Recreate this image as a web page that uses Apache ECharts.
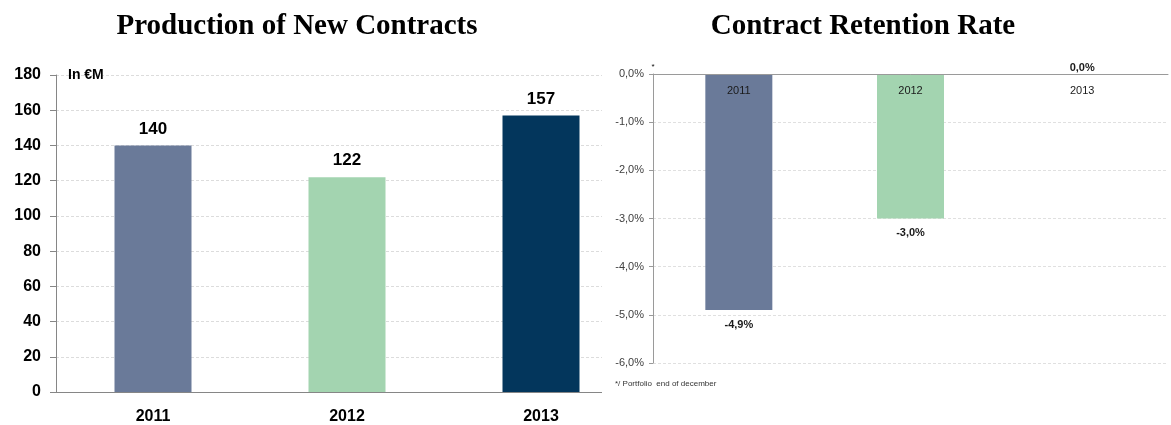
<!DOCTYPE html>
<html>
<head>
<meta charset="utf-8">
<script src="https://cdn.jsdelivr.net/npm/echarts@6/dist/echarts.min.js"></script>
<style>
  html, body { margin: 0; padding: 0; background: #fff; }
  #wrap { position: relative; width: 1171px; height: 425px; overflow: hidden; }
  #prod { position: absolute; left: 0; top: 0; width: 1171px; height: 425px; }
  #ret { position: absolute; left: 602px; top: 0; width: 569px; height: 394px; background: #fff; }
</style>
</head>
<body>
<div id="wrap">
  <div id="prod"></div>
  <div id="ret"></div>
</div>
<script>
// Years shown on both charts
const years = ['2011', '2012', '2013'];
// New contract production, in € millions
const production = [140, 122, 157];
// Contract retention rate, in percent
const retention = [-4.9, -3.0, 0.0];
// Value axis ticks
const prodTicks = { min: 0, max: 180, step: 20 };
const retTicks = { min: -6, max: 0, step: 1 };

const barColors = ['#6a7a99', '#a3d4b0', '#03365c'];
const sans = '"Liberation Sans", Arial, sans-serif';
const serif = '"Liberation Serif", "Times New Roman", serif';
const pct = v => v.toFixed(1).replace('.', ',') + '%';

// Left chart: production of new contracts
const prodChart = echarts.init(document.getElementById('prod'), null, { renderer: 'canvas' });
prodChart.setOption({
  animation: false,
  title: {
    text: 'Production of New Contracts',
    left: 292, top: 7, textAlign: 'center',
    textStyle: { fontFamily: serif, fontWeight: 'bold', fontSize: 29, color: '#000' }
  },
  grid: { left: 56, top: 75, right: 533, bottom: 32 },
  xAxis: {
    type: 'category',
    data: years,
    axisLine: { lineStyle: { color: '#868686', width: 1 } },
    axisTick: { length: 7, lineStyle: { color: '#868686' } },
    axisLabel: { margin: 17, color: '#000', fontFamily: sans, fontWeight: 'bold', fontSize: 16 }
  },
  yAxis: {
    type: 'value',
    min: prodTicks.min, max: prodTicks.max, interval: prodTicks.step,
    name: 'In €M',
    nameLocation: 'end',
    nameGap: 0,
    nameTextStyle: { align: 'left', verticalAlign: 'middle', padding: [0, 0, 0, 12], color: '#000', fontFamily: sans, fontWeight: 'bold', fontSize: 14 },
    axisLine: { show: true, lineStyle: { color: '#868686', width: 1 } },
    axisTick: { show: true, length: 6, lineStyle: { color: '#868686' } },
    axisLabel: { margin: 15, color: '#000', fontFamily: sans, fontWeight: 'bold', fontSize: 16 },
    splitLine: { show: true, lineStyle: { color: '#dcdcdc', type: [3, 2], width: 1 } }
  },
  series: [{
    type: 'bar',
    barWidth: 77,
    data: production.map((v, i) => ({ value: v, itemStyle: { color: barColors[i] } })),
    label: {
      show: true, position: 'top', distance: 8,
      color: '#000', fontFamily: sans, fontWeight: 'bold', fontSize: 17
    }
  }]
});

// Right chart: contract retention rate
const retChart = echarts.init(document.getElementById('ret'), null, { renderer: 'canvas' });
retChart.setOption({
  animation: false,
  title: [{
    text: 'Contract Retention Rate',
    left: 256, top: 7, textAlign: 'center',
    textStyle: { fontFamily: serif, fontWeight: 'bold', fontSize: 29, color: '#000' }
  }, {
    text: '*/ Portfolio  end of december',
    left: 8, top: 375,
    textStyle: { fontFamily: sans, fontWeight: 'normal', fontSize: 8, color: '#333' }
  }],
  grid: { left: 51, top: 74, right: 3, bottom: 31 },
  xAxis: {
    type: 'category',
    position: 'top',
    data: years,
    axisLine: { lineStyle: { color: '#9a9a9a', width: 1 } },
    axisTick: { length: 3, lineStyle: { color: '#9a9a9a' } },
    axisLabel: { inside: true, margin: 11, color: '#1a1a1a', fontFamily: sans, fontSize: 11 },
    z: 10
  },
  yAxis: {
    type: 'value',
    min: retTicks.min, max: retTicks.max, interval: retTicks.step,
    name: '*',
    nameLocation: 'end',
    nameGap: 3,
    nameTextStyle: { color: '#000', fontFamily: sans, fontSize: 8, align: 'center' },
    axisLine: { show: true, lineStyle: { color: '#9a9a9a', width: 1 } },
    axisTick: { show: true, length: 4, lineStyle: { color: '#9a9a9a' } },
    axisLabel: { margin: 9, color: '#404040', fontFamily: sans, fontSize: 11, formatter: pct },
    splitLine: { show: true, lineStyle: { color: '#e0e0e0', type: [3, 2], width: 1 } }
  },
  series: [{
    type: 'bar',
    barWidth: 67,
    // negative values are labelled below the bar end, a zero value above the axis
    data: retention.map((v, i) => ({
      value: v,
      itemStyle: { color: barColors[i] },
      label: v < 0 ? { position: 'outside', distance: 9 } : { position: 'top', distance: 1 }
    })),
    label: {
      show: true,
      color: '#1a1a1a', fontFamily: sans, fontWeight: 'bold', fontSize: 11,
      formatter: p => pct(p.value)
    }
  }]
});
</script>
</body>
</html>
